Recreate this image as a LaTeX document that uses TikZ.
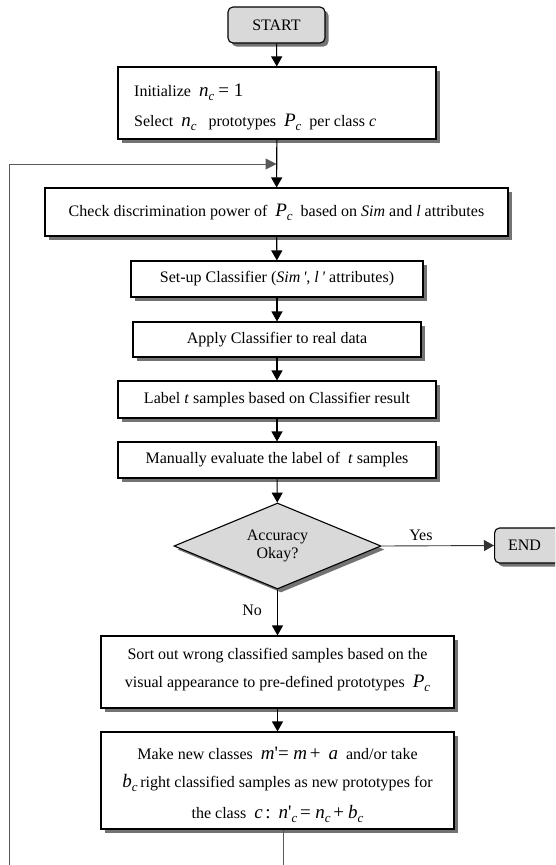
\documentclass[tikz,border=0pt]{standalone}
\usepackage{fontspec}
\setmainfont{Liberation Serif}
\usetikzlibrary{arrows.meta,shapes.geometric,shadows}
\newcommand\mvar[1]{{\fontsize{19}{19}\selectfont\textit{#1}}}
\newcommand\msub[1]{\raisebox{-4pt}{\fontsize{13}{13}\selectfont\textit{#1}}}
\newcommand\mbig[1]{{\fontsize{19}{19}\selectfont #1}}
\begin{document}
\begin{tikzpicture}[x=1pt,y=-1pt,
  shad/.style={drop shadow={shadow xshift=3.5pt,shadow yshift=-3.5pt,fill=black!55,opacity=1}},
  box/.style={draw,line width=1.1pt,fill=white,shad,inner sep=0pt,align=center,
    font=\fontsize{16}{29}\selectfont},
  term/.style={box,rounded corners=5pt,fill=black!15},
  txt/.style={inner sep=0pt,font=\fontsize{16}{18}\selectfont},
  decision/.style={draw,line width=1.1pt,fill=black!15,shad,shape=diamond,aspect=2.4,inner sep=0pt,
    align=center,font=\fontsize{16}{18}\selectfont,minimum width=207pt,minimum height=86pt},
  arr/.style={line width=1.1pt,-{Triangle[length=10pt,width=11pt]}},
  loopline/.style={line width=1pt,draw=black!65},
  lbl/.style={font=\fontsize{16}{18}\selectfont,inner sep=0pt}]
\clip (0,0) rectangle (555,865);

\node[term,minimum width=97pt,minimum height=36pt] (start) at (276.5,25) {START};
\node[box,minimum width=318pt,minimum height=72pt] (b1) at (277,103) {};
\node[txt,anchor=base west] (b1a) at (134,96) {Initialize\ \ \mvar{n}\msub{c}\ \mbig{= 1}};
\node[txt,anchor=base west] (b1b) at (134,126)
  {Select\ \ \mvar{n}\msub{c}\ \ \ prototypes\ \ \mvar{P}\msub{c}\ \ per class \textit{c}};
\node[box,minimum width=463pt,minimum height=48pt] (b2) at (276.5,212)
  {Check discrimination power of\ \ \mvar{P}\msub{c}\ \ based on \textit{Sim} and \textit{l} attributes};
\node[box,minimum width=292pt,minimum height=36pt] (b3) at (277,279)
  {Set-up Classifier (\textit{Sim\,\textquotesingle}, \textit{l\,\textquotesingle} attributes)};
\node[box,minimum width=288pt,minimum height=35pt] (b4) at (277,339.5)
  {Apply Classifier to real data};
\node[box,minimum width=318pt,minimum height=37pt] (b5) at (277,399.5)
  {Label \textit{t} samples based on Classifier result};
\node[box,minimum width=318pt,minimum height=36pt] (b6) at (277,460)
  {Manually evaluate the label of\ \ \textit{t} samples};
\node[decision] (dec) at (277.5,546) {Accuracy\\Okay?};
\node[term,anchor=west,minimum width=68pt,minimum height=35pt] (end) at (494,545.5)
  {\hspace*{-8pt}END};
\node[box,minimum width=353pt,minimum height=72pt] (b7) at (277.5,672) {};
\node[txt,anchor=base] (b7a) at (277.5,659) {Sort out wrong classified samples based on the};
\node[txt,anchor=base] (b7b) at (277.5,687) {visual appearance to pre-defined prototypes\ \ \mvar{P}\msub{c}};
\node[box,minimum width=353pt,minimum height=97pt] (b8) at (277.5,780.5) {};
\node[txt,anchor=base] (b8a) at (277.5,759)
  {Make new classes\ \ \mvar{m}\mbig{\textquotesingle= }\mvar{m}\,\mbig{+}\ \ \mvar{a}\ \ and/or take};
\node[txt,anchor=base] (b8b) at (277.5,787)
  {\mvar{b}\msub{c}\,right classified samples as new prototypes for};
\node[txt,anchor=base] (b8c) at (277.5,818)
  {the class\ \ \mvar{c}\,\mbig{:}\ \ \mvar{n}\mbig{\textquotesingle}\msub{c}\,\mbig{= }\mvar{n}\msub{c}\,\mbig{+}\ \mvar{b}\msub{c}};

\coordinate (lb) at (283,870);
\coordinate (ll) at (9,870);
\coordinate (lj) at (276.5,164);

\draw[arr] (start) -- (b1);
\draw[arr] (b1) -- (b2);
\draw[arr] (b2) -- (b3);
\draw[arr] (b3) -- (b4);
\draw[arr] (b4) -- (b5);
\draw[arr] (b5) -- (b6);
\draw[arr] (b6) -- (dec);
\draw[arr] (dec) -- (b7) node[lbl,pos=0.45,left=15pt] (no) {No};
\draw[arr] (b7) -- (b8);
\draw[arr,line width=0.9pt,draw=black!80] (dec.east) -- (end.west) node[lbl,pos=0.35,above=5pt] (yes) {Yes};
\draw[loopline] (b8.south -| lb) -- (lb);
\draw[loopline,-{Triangle[length=11pt,width=11pt]}] (ll) |- (lj);
\end{tikzpicture}
\end{document}
